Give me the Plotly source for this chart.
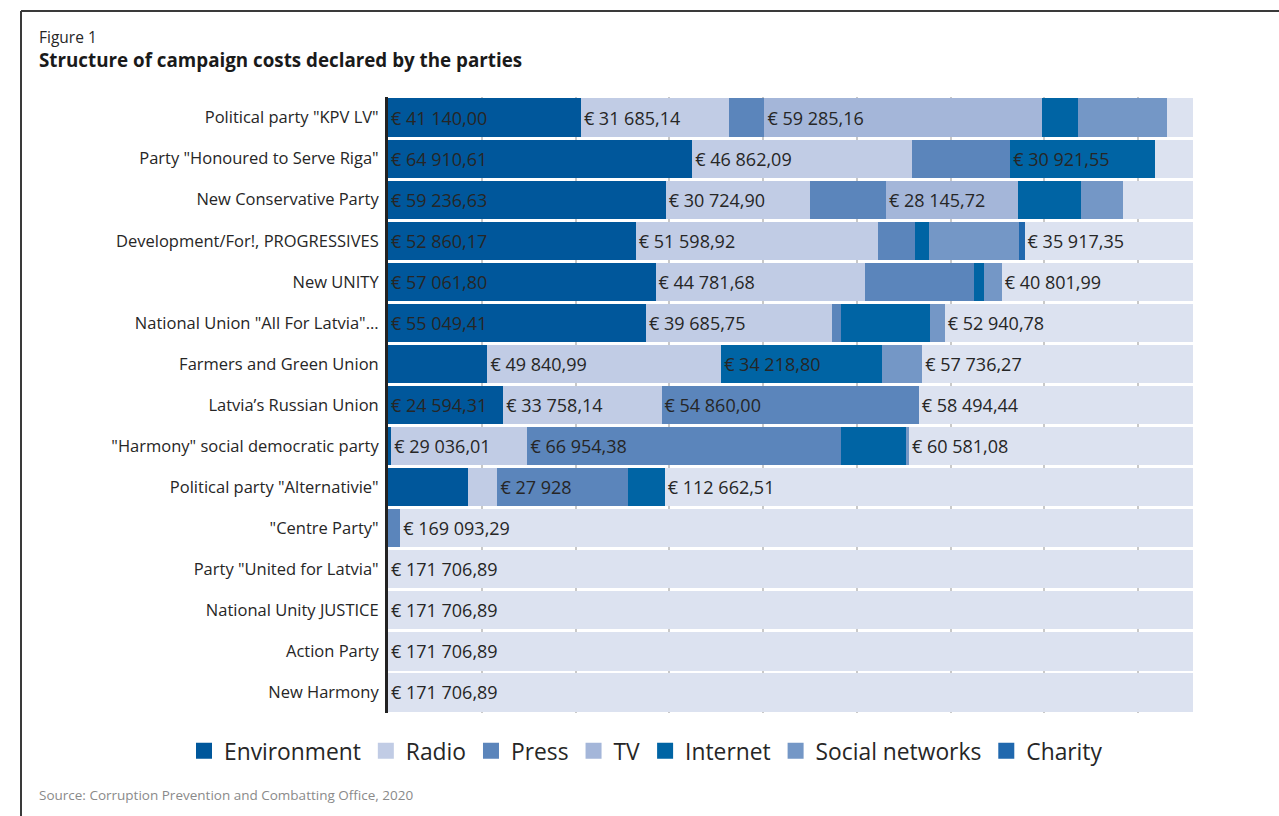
import plotly.graph_objects as go

# ---------------- data ----------------
parties = [
    'Political party "KPV LV"',
    'Party "Honoured to Serve Riga"',
    'New Conservative Party',
    'Development/For!, PROGRESSIVES',
    'New UNITY',
    'National Union "All For Latvia"...',
    'Farmers and Green Union',
    'Latvia\u2019s Russian Union',
    '"Harmony" social democratic party',
    'Political party "Alternativie"',
    '"Centre Party"',
    'Party "United for Latvia"',
    'National Unity JUSTICE',
    'Action Party',
    'New Harmony',
]

environment = [41140.00, 64910.61, 59236.63, 52860.17, 57061.80, 55049.41, 21213.00, 24594.31, 700.00, 17030.00, 0, 0, 0, 0, 0]
radio = [31685.14, 46862.09, 30724.90, 51598.92, 44781.68, 39685.75, 49840.99, 33758.14, 29036.01, 6306.00, 0, 0, 0, 0, 0]
press = [7480.00, 20940.00, 16240.00, 8045.00, 23215.00, 1931.00, 0, 54860.00, 66954.38, 27928.00, 2613.60, 0, 0, 0, 0]
tv = [59285.16, 0, 28145.72, 0, 0, 0, 0, 0, 0, 0, 0, 0, 0, 0, 0]
internet = [7690.00, 30921.55, 13460.00, 2964.00, 1992.00, 18885.00, 34218.80, 0, 13800.00, 7780.00, 0, 0, 0, 0, 0]
social = [18800.00, 0, 8975.00, 19053.00, 3855.00, 3215.00, 8697.00, 0, 635.00, 0, 0, 0, 0, 0, 0]
charity = [0, 0, 0, 1268.00, 0, 0, 0, 0, 0, 0, 0, 0, 0, 0, 0]
remaining = [5626.59, 8072.64, 14924.64, 35917.35, 40801.99, 52940.78, 57736.27, 58494.44,
             60581.08, 112662.51, 169093.29, 171706.89, 171706.89, 171706.89, 171706.89]
spending_limit = 171706.89

# which values carry a data label (number = decimals shown, None = no label)
environment_lbl = [2, 2, 2, 2, 2, 2, None, 2, None, None, None, None, None, None, None]
radio_lbl = [2, 2, 2, 2, 2, 2, 2, 2, 2, None, None, None, None, None, None]
press_lbl = [None, None, None, None, None, None, None, 2, 2, 0, None, None, None, None, None]
tv_lbl = [2, None, 2, None, None, None, None, None, None, None, None, None, None, None, None]
internet_lbl = [None, 2, None, None, None, None, 2, None, None, None, None, None, None, None, None]
social_lbl = [None] * 15
charity_lbl = [None] * 15
remaining_lbl = [None, None, None, 2, 2, 2, 2, 2, 2, 2, 2, 2, 2, 2, 2]

series = [
    ("Environment", environment, environment_lbl, "#00579b", True),
    ("Radio", radio, radio_lbl, "#c1cce5", True),
    ("Press", press, press_lbl, "#5b85bb", True),
    ("TV", tv, tv_lbl, "#a4b6d9", True),
    ("Internet", internet, internet_lbl, "#0064a4", True),
    ("Social networks", social, social_lbl, "#7497c6", True),
    ("Charity", charity, charity_lbl, "#2068ae", True),
    ("Remaining", remaining, remaining_lbl, "#dce2f0", False),
]


def fmt(v, d):
    if d is None:
        return ""
    s = f"{v:,.{d}f}"
    s = s.replace(",", " ").replace(".", ",")
    return "\u20ac " + s


FONT = "Open Sans"

fig = go.Figure()
for name, vals, lbl, color, in_legend in series:
    fig.add_trace(go.Bar(
        y=parties, x=vals, name=name, orientation="h",
        marker=dict(color=color, line=dict(width=0)),
        text=[fmt(v, d) for v, d in zip(vals, lbl)],
        textposition="inside", insidetextanchor="start", textangle=0,
        textfont=dict(family=FONT, size=18, color="#262626"),
        showlegend=False, hoverinfo="x+y+name",
    ))
    if in_legend:
        fig.add_trace(go.Scatter(
            x=[None], y=[None], mode="markers", name=name,
            marker=dict(symbol="square", size=16, color=color),
            showlegend=True,
        ))

W, H = 1279, 816
L, R, T, B = 388, 1279 - 1193, 97, 816 - 713
pw, ph = W - L - R, H - T - B


def px(x):
    return (x - L) / pw


def py(y):
    return (H - B - y) / ph


fig.update_layout(
    width=W, height=H,
    margin=dict(l=L, r=R, t=T, b=B, autoexpand=False),
    barmode="stack", bargap=0.07,
    plot_bgcolor="white", paper_bgcolor="white",
    font=dict(family=FONT, color="#262626"),
    uniformtext=dict(minsize=18, mode="show"),
    xaxis=dict(range=[0, spending_limit], showticklabels=False, showgrid=True,
               gridcolor="#c9c9c9", gridwidth=2, dtick=20000, tick0=0,
               zeroline=False, showline=False, ticks=""),
    yaxis=dict(categoryorder="array", categoryarray=parties, autorange="reversed",
               showline=True, linecolor="#222222", linewidth=3, ticks="",
               ticklabelstandoff=3,
               tickfont=dict(family=FONT, size=16.5, color="#262626"), showgrid=False),
    legend=dict(orientation="h", xref="paper", yref="paper",
                x=px(184), xanchor="left", y=py(751), yanchor="middle",
                font=dict(family=FONT, size=22.8, color="#262626"),
                itemsizing="trace", traceorder="normal", bgcolor="rgba(0,0,0,0)"),
    annotations=[
        dict(xref="paper", yref="paper", x=px(37), y=py(37), xanchor="left", yanchor="middle",
             text="Figure 1", showarrow=False, font=dict(family=FONT, size=15.5, color="#262626")),
        dict(xref="paper", yref="paper", x=px(37), y=py(60), xanchor="left", yanchor="middle",
             text="<b>Structure of campaign costs declared by the parties</b>", showarrow=False,
             font=dict(family=FONT, size=18.8, color="#1a1a1a")),
        dict(xref="paper", yref="paper", x=px(37), y=py(795), xanchor="left", yanchor="middle",
             text="Source: Corruption Prevention and Combatting Office, 2020", showarrow=False,
             font=dict(family=FONT, size=13.5, color="#8a8a8a")),
    ],
    shapes=[
        dict(type="line", xref="paper", yref="paper", x0=px(21), x1=px(1279), y0=py(11), y1=py(11),
             line=dict(color="#3a3a3a", width=2)),
        dict(type="line", xref="paper", yref="paper", x0=px(21), x1=px(21), y0=py(11), y1=py(816),
             line=dict(color="#3a3a3a", width=2)),
    ],
)

fig.write_html("out.html", config={"displayModeBar": False},
               post_script="document.body.style.margin='0px';document.body.style.overflow='hidden';")
